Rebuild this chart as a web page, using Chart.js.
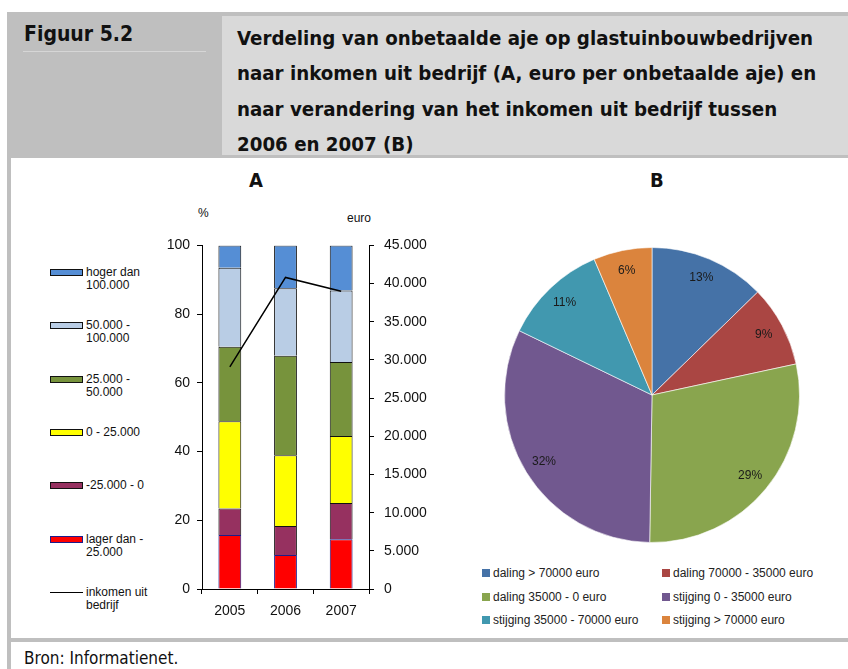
<!DOCTYPE html>
<html>
<head>
<meta charset="utf-8">
<script src="https://cdn.jsdelivr.net/npm/chart.js@4.4.0/dist/chart.umd.min.js"></script>
<style>
  html, body { margin: 0; padding: 0; background: #fff; }
  body { width: 848px; height: 669px; position: relative; overflow: hidden; font-family: "Liberation Sans", Arial, sans-serif; }
  .abs { position: absolute; }
  .hdr-right { left: 222px; top: 16px; width: 626px; height: 139px; background: #d9d9d9; }
  .hdr-band { left: 7px; top: 12px; width: 841px; height: 146px; background: #bfbfbf; }
  .cond { font-family: "Liberation Sans Narrow", "DejaVu Sans Condensed", "Liberation Sans", sans-serif; font-weight: bold; color: #111; }
  .fig { left: 24px; top: 22px; font-size: 21px; }
  .figline { left: 23px; top: 51px; width: 183px; height: 1px; background: #d6d6d6; }
  .title { left: 237px; top: 21px; font-size: 20.3px; line-height: 35.3px; white-space: nowrap; }
  .lborder { left: 7px; top: 158px; width: 4px; height: 511px; background: #bfbfbf; }
  .bborder { left: 7px; top: 638px; width: 841px; height: 4px; background: #bfbfbf; }
  .panel { font-size: 20px; }
  .small { font-size: 12px; color: #111; }
  .leg-item { position: absolute; left: 50px; font-size: 12px; line-height: 13px; color: #111; }
  .leg-item .sw { position: absolute; left: 0; top: 3px; width: 31px; height: 5px; border: 1px solid #111; }
  .leg-item .ln { position: absolute; left: 0; top: 6px; width: 33px; height: 1px; background: #000; }
  .leg-item .tx { position: absolute; left: 36px; top: 0; white-space: pre; }
  .pleg { position: absolute; font-size: 12px; color: #222; white-space: nowrap; line-height: 14px; }
  .pleg .sq { display: inline-block; width: 8px; height: 8px; margin-right: 3px; vertical-align: 0px; }
  .bron { left: 24px; top: 648px; font-size: 17px; color: #111; font-family: "Liberation Sans Narrow", "DejaVu Sans Condensed", "Liberation Sans", sans-serif; }
</style>
</head>
<body>
<div class="abs hdr-band"></div>
<div class="abs hdr-right"></div>
<div class="abs cond fig">Figuur 5.2</div>
<div class="abs figline"></div>
<div class="abs cond title">Verdeling van onbetaalde aje op glastuinbouwbedrijven<br>naar inkomen uit bedrijf (A, euro per onbetaalde aje) en<br>naar verandering van het inkomen uit bedrijf tussen<br>2006 en 2007 (B)</div>
<div class="abs lborder"></div>
<div class="abs bborder"></div>
<div class="abs cond panel" style="left:249px; top:168px;">A</div>
<div class="abs cond panel" style="left:650px; top:168px;">B</div>
<div class="abs small" style="left:198px; top:206px;">%</div>
<div class="abs small" style="left:347px; top:211px;">euro</div>
<div id="barLegend"></div>
<div class="abs" style="left:150px; top:227px; width:300px; height:400px;"><canvas id="barChart"></canvas></div>
<div class="abs" style="left:502px; top:245px; width:300px; height:300px;"><canvas id="pieChart"></canvas></div>
<div id="pieLegend"></div>
<div class="abs bron">Bron: Informatienet.</div>

<script>
// Grafiek A: verdeling onbetaalde aje (%) per inkomensklasse
const years = ['2005', '2006', '2007'];
const incomeClasses = ['lager dan -\n25.000', '-25.000 - 0', '0 - 25.000', '25.000 -\n50.000', '50.000 -\n100.000', 'hoger dan\n100.000'];
const lagerDan25000 = [15.7, 9.9, 14.5];
const min25000tot0 = [7.7, 8.4, 10.5];
const nulTot25000 = [25.4, 20.6, 19.5];
const tot50000 = [21.7, 29.0, 21.6];
const tot100000 = [23.0, 19.6, 20.8];
const hogerDan100000 = [6.5, 12.5, 13.1];
const inkomenUitBedrijf = [29100, 40800, 39000]; // euro per onbetaalde aje
const pctTicks = [0, 20, 40, 60, 80, 100];
const euroTicks = [0, 5000, 10000, 15000, 20000, 25000, 30000, 35000, 40000, 45000];

// Grafiek B: verandering inkomen 2006-2007
const changeLabels = ['daling > 70000 euro', 'daling 70000 - 35000 euro', 'daling 35000 - 0 euro', 'stijging 0 - 35000 euro', 'stijging 35000 - 70000 euro', 'stijging > 70000 euro'];
const changeShares = [12.7, 8.9, 28.6, 31.9, 11.4, 6.4];

const barColors = ['#ff0000', '#963160', '#ffff00', '#77933c', '#b9cde5', '#558ed5'];
const barBorders = ['#1c1c8c', '#111111', '#111111', '#111111', '#111111', '#111111'];
const pieColors = ['#4572a7', '#aa4643', '#89a54e', '#71588f', '#4198af', '#db843d'];

const barSeries = [lagerDan25000, min25000tot0, nulTot25000, tot50000, tot100000, hogerDan100000];

// legenda links (bovenste klasse bovenaan)
const barLegend = document.getElementById('barLegend');
for (let i = 0; i < incomeClasses.length; i++) {
  const idx = incomeClasses.length - 1 - i;
  const item = document.createElement('div');
  item.className = 'leg-item';
  item.style.top = (266 + i * 53.3) + 'px';
  item.innerHTML = '<div class="sw" style="background:' + barColors[idx] + ';border-color:' + barBorders[idx] + '"></div>' +
    '<div class="tx">' + incomeClasses[idx] + '</div>';
  barLegend.appendChild(item);
}
const lineItem = document.createElement('div');
lineItem.className = 'leg-item';
lineItem.style.top = (266 + 6 * 53.3) + 'px';
lineItem.innerHTML = '<div class="ln"></div><div class="tx">inkomen uit\nbedrijf</div>';
barLegend.appendChild(lineItem);

// legenda taartdiagram (2 kolommen)
const pieLegend = document.getElementById('pieLegend');
changeLabels.forEach((label, i) => {
  const el = document.createElement('div');
  el.className = 'pleg';
  el.style.left = (i % 2 === 0 ? 482 : 662) + 'px';
  el.style.top = (566 + Math.floor(i / 2) * 23.5) + 'px';
  el.innerHTML = '<span class="sq" style="background:' + pieColors[i] + '"></span>' + label;
  pieLegend.appendChild(el);
});

const fmtEuro = v => v.toLocaleString('nl-NL').replace(/,/g, '.');

const barDatasets = barSeries.map((values, i) => ({
  type: 'bar',
  label: incomeClasses[i].replace('\n', ' '),
  data: values,
  backgroundColor: barColors[i],
  borderColor: barBorders[i],
  borderWidth: 1,
  yAxisID: 'y',
  order: 1,
  barPercentage: 0.82,
  categoryPercentage: 0.5
}));

new Chart(document.getElementById('barChart'), {
  type: 'bar',
  data: {
    labels: years,
    datasets: [
      ...barDatasets,
      {
        type: 'line',
        label: 'inkomen uit bedrijf',
        data: inkomenUitBedrijf,
        borderColor: '#000',
        borderWidth: 1.5,
        pointRadius: 0,
        tension: 0,
        yAxisID: 'y1',
        order: 0
      }
    ]
  },
  options: {
    responsive: true,
    maintainAspectRatio: false,
    animation: false,
    plugins: { legend: { display: false }, tooltip: { enabled: false } },
    layout: { padding: { top: 11, left: 0, right: 0, bottom: 0 } },
    scales: {
      x: {
        stacked: true,
        grid: { display: true, drawOnChartArea: false, drawTicks: true, tickLength: 5, color: '#000', offset: true },
        border: { display: true, color: '#000', width: 1 },
        ticks: { color: '#111', font: { size: 14, family: 'Liberation Sans' }, padding: 9 },
        afterFit: s => { s.height = 38; }
      },
      y: {
        stacked: true,
        position: 'left',
        min: 0, max: 100,
        afterBuildTicks: s => { s.ticks = pctTicks.map(v => ({ value: v })); },
        grid: { drawOnChartArea: false, drawTicks: true, tickLength: 5, color: '#000' },
        border: { display: true, color: '#000', width: 1 },
        ticks: { color: '#111', font: { size: 14, family: 'Liberation Sans' }, padding: 7 },
        afterFit: s => { s.width = 52; }
      },
      y1: {
        position: 'right',
        min: 0, max: 45000,
        afterBuildTicks: s => { s.ticks = euroTicks.map(v => ({ value: v })); },
        grid: { drawOnChartArea: false, drawTicks: true, tickLength: 5, color: '#000' },
        border: { display: true, color: '#000', width: 1 },
        ticks: { color: '#111', font: { size: 14, family: 'Liberation Sans' }, padding: 10, callback: v => fmtEuro(v) },
        afterFit: s => { s.width = 81; }
      }
    }
  }
});

// percentages in de taartpunten
const pieLabelPlugin = {
  id: 'pieLabels',
  afterDatasetsDraw(chart) {
    const ctx = chart.ctx;
    const meta = chart.getDatasetMeta(0);
    const data = chart.data.datasets[0].data;
    const total = data.reduce((a, b) => a + b, 0);
    ctx.save();
    ctx.font = '12px "Liberation Sans", Arial, sans-serif';
    ctx.fillStyle = '#1a1a1a';
    ctx.textAlign = 'center';
    ctx.textBaseline = 'middle';
    meta.data.forEach((arc, i) => {
      const p = arc.getProps(['x', 'y', 'startAngle', 'endAngle', 'outerRadius'], true);
      const mid = (p.startAngle + p.endAngle) / 2;
      const r = p.outerRadius * 0.86;
      ctx.fillText(Math.round(data[i] / total * 100) + '%', p.x + Math.cos(mid) * r, p.y + Math.sin(mid) * r);
    });
    ctx.restore();
  }
};

new Chart(document.getElementById('pieChart'), {
  type: 'pie',
  data: {
    labels: changeLabels,
    datasets: [{
      data: changeShares,
      backgroundColor: pieColors,
      borderColor: 'rgba(255,255,255,0.6)',
      borderWidth: 1
    }]
  },
  options: {
    responsive: true,
    maintainAspectRatio: false,
    animation: false,
    layout: { padding: 2 },
    plugins: { legend: { display: false }, tooltip: { enabled: false } }
  },
  plugins: [pieLabelPlugin]
});
</script>
</body>
</html>
